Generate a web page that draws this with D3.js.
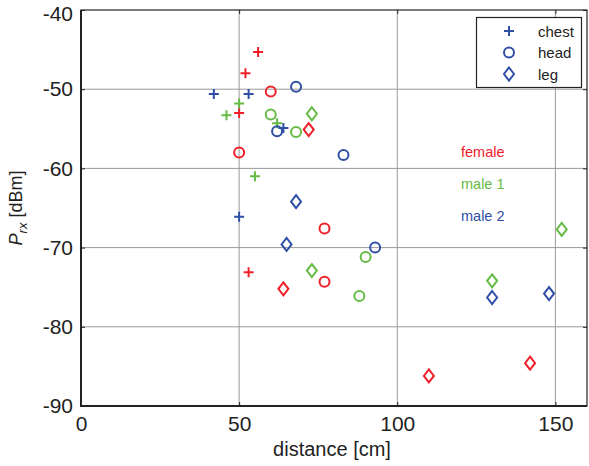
<!DOCTYPE html>
<html>
<head>
<meta charset="utf-8">
<script src="https://cdn.jsdelivr.net/npm/d3@7"></script>
<style>
  html, body { margin: 0; padding: 0; background: #fff; }
  svg { display: block; font-family: "Liberation Sans", Arial, sans-serif; }
</style>
</head>
<body>
<svg id="chart" width="589" height="466"></svg>
<script>
// Received power vs. distance for three subjects and three antenna placements
const subjects = ["female", "male 1", "male 2"];
const placements = ["chest", "head", "leg"];
const subjectColors = ["#f0202a", "#66bb44", "#2f4fa6"];

// distance [cm] and Prx [dBm], per subject and placement
const femaleChestDist = [56, 52, 50, 53];
const femaleChestP    = [-45.3, -48.0, -53.0, -73.1];
const femaleHeadDist  = [60, 50, 77, 77];
const femaleHeadP     = [-50.3, -58.0, -67.6, -74.3];
const femaleLegDist   = [72, 64, 110, 142];
const femaleLegP      = [-55.1, -75.2, -86.2, -84.6];

const male1ChestDist = [50, 46, 62, 55];
const male1ChestP    = [-51.8, -53.3, -54.3, -61.0];
const male1HeadDist  = [60, 68, 90, 88];
const male1HeadP     = [-53.2, -55.4, -71.2, -76.1];
const male1LegDist   = [73, 73, 130, 152];
const male1LegP      = [-53.1, -72.9, -74.2, -67.7];

const male2ChestDist = [42, 53, 64, 50];
const male2ChestP    = [-50.6, -50.6, -54.9, -66.1];
const male2HeadDist  = [68, 62, 83, 93];
const male2HeadP     = [-49.7, -55.3, -58.3, -70.0];
const male2LegDist   = [68, 65, 130, 148];
const male2LegP      = [-64.2, -69.6, -76.3, -75.8];

const xTicks = [0, 50, 100, 150];
const yTicks = [-90, -80, -70, -60, -50, -40];

const groups = [
  { s: 0, p: 0, d: femaleChestDist, v: femaleChestP },
  { s: 0, p: 1, d: femaleHeadDist,  v: femaleHeadP },
  { s: 0, p: 2, d: femaleLegDist,   v: femaleLegP },
  { s: 1, p: 0, d: male1ChestDist,  v: male1ChestP },
  { s: 1, p: 1, d: male1HeadDist,   v: male1HeadP },
  { s: 1, p: 2, d: male1LegDist,    v: male1LegP },
  { s: 2, p: 0, d: male2ChestDist,  v: male2ChestP },
  { s: 2, p: 1, d: male2HeadDist,   v: male2HeadP },
  { s: 2, p: 2, d: male2LegDist,    v: male2LegP }
];
const points = [];
groups.forEach(g => g.d.forEach((d, i) => points.push({ s: g.s, p: g.p, x: d, y: g.v[i] })));

const svg = d3.select("#chart");
const L = 81, R = 587, T = 10, B = 406;
const x = d3.scaleLinear().domain([0, 160]).range([L, R]);
const y = d3.scaleLinear().domain([-90, -40]).range([B, T]);

// grid
const grid = svg.append("g");
grid.selectAll("line.gx").data(xTicks.slice(1)).join("line")
  .attr("x1", d => x(d)).attr("x2", d => x(d)).attr("y1", T).attr("y2", B)
  .attr("stroke", "#9a9a9a").attr("stroke-width", 1);
grid.selectAll("line.gy").data(yTicks.slice(1, -1)).join("line")
  .attr("x1", L).attr("x2", R).attr("y1", d => y(d)).attr("y2", d => y(d))
  .attr("stroke", "#9a9a9a").attr("stroke-width", 1);

// axes (ticks pointing inward)
const xAxis = d3.axisBottom(x).tickValues(xTicks).tickSize(-4).tickPadding(10).tickFormat(d3.format("d"));
const yAxis = d3.axisLeft(y).tickValues(yTicks).tickSize(-4).tickPadding(8).tickFormat(d => d3.format("d")(d).replace("−", "-"));
const xa = svg.append("g").attr("transform", `translate(0,${B})`).call(xAxis);
const ya = svg.append("g").attr("transform", `translate(${L},0)`).call(yAxis);
const xTop = svg.append("g").attr("transform", `translate(0,${T})`).call(d3.axisTop(x).tickValues(xTicks).tickSize(-4).tickFormat(""));
const yRight = svg.append("g").attr("transform", `translate(${R},0)`).call(d3.axisRight(y).tickValues(yTicks).tickSize(-4).tickFormat(""));
[xa, ya, xTop, yRight].forEach(a => {
  a.select(".domain").remove();
  a.selectAll(".tick line").attr("stroke", "#222").attr("stroke-width", 1);
  a.selectAll(".tick text").attr("fill", "#222").attr("font-size", 21)
    .attr("font-family", "Liberation Sans, Arial, sans-serif");
});
xa.selectAll(".tick text").attr("dy", "0.72em");
// keep the top label inside the page
ya.selectAll(".tick text").filter(d => d === -40).attr("dy", "0.48em");

// frame
svg.append("rect").attr("x", L).attr("y", T).attr("width", R - L).attr("height", B - T)
  .attr("fill", "none").attr("stroke", "#222").attr("stroke-width", 1.2);
svg.append("path").attr("d", `M${L},${T}V${B}H${R}`)
  .attr("fill", "none").attr("stroke", "#222").attr("stroke-width", 2);

// markers
function markerPath(p) {
  if (p === 0) return "M-5,0H5M0,-5V5";
  if (p === 1) return d3.symbol(d3.symbolCircle, 78)();
  return "M0,-6.5L5,0L0,6.5L-5,0Z";
}
svg.append("g").selectAll("path").data(points).join("path")
  .attr("transform", d => `translate(${x(d.x)},${y(d.y)})`)
  .attr("d", d => markerPath(d.p))
  .attr("fill", "none")
  .attr("stroke", d => subjectColors[d.s])
  .attr("stroke-width", 2);

// subject colour key
svg.append("g").selectAll("text").data(subjects).join("text")
  .attr("x", 461).attr("y", (d, i) => 157 + i * 32)
  .attr("font-size", 14.5)
  .attr("fill", (d, i) => subjectColors[i])
  .text(d => d);

// placement legend
const lg = svg.append("g");
lg.append("rect").attr("x", 476.5).attr("y", 17.5).attr("width", 105).attr("height", 70)
  .attr("fill", "#fff").attr("stroke", "#222").attr("stroke-width", 1.2);
const li = lg.selectAll("g").data(placements).join("g")
  .attr("transform", (d, i) => `translate(0,${31 + i * 21.5})`);
li.append("path").attr("transform", "translate(509,0)")
  .attr("d", (d, i) => markerPath(i))
  .attr("fill", "none").attr("stroke", subjectColors[2]).attr("stroke-width", 2);
li.append("text").attr("x", 538).attr("y", 5.5).attr("font-size", 15).attr("fill", "#222").text(d => d);

// axis titles
svg.append("text").attr("x", 332).attr("y", 456).attr("text-anchor", "middle")
  .attr("font-size", 20).attr("fill", "#222").text("distance [cm]");
const yl = svg.append("text").attr("transform", "translate(22,208) rotate(-90)")
  .attr("text-anchor", "middle").attr("font-size", 18).attr("fill", "#222");
yl.append("tspan").attr("font-style", "italic").text("P");
yl.append("tspan").attr("font-style", "italic").attr("font-size", 13).attr("dy", 5).text("rx");
yl.append("tspan").attr("dy", -5).text(" [dBm]");
</script>
</body>
</html>
